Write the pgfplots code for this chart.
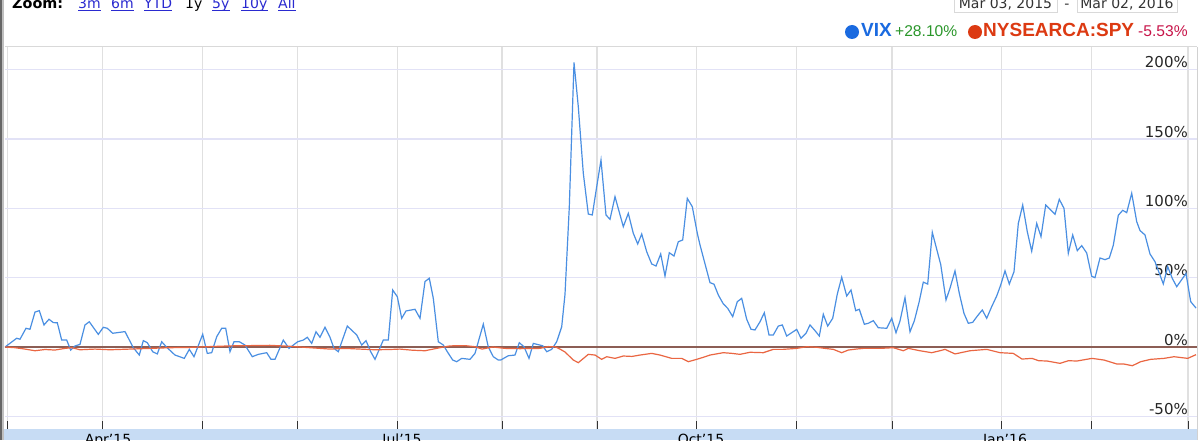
\documentclass[border=0pt]{standalone}
\usepackage{fontspec}
\setmainfont{DejaVu Sans}
\newfontfamily\arial{Liberation Sans}
\usepackage{pgfplots}
\pgfplotsset{compat=1.18}
\usepackage{pgfplotstable}

\definecolor{vixline}{HTML}{4A8FE2}
\definecolor{spyline}{HTML}{EA6642}
\definecolor{zeroline}{HTML}{8C5E55}
\definecolor{hgrid}{HTML}{E2E2F6}
\definecolor{vgrid}{HTML}{E0E0E0}
\definecolor{navband}{HTML}{C7DCF4}
\definecolor{legblue}{HTML}{1A6AE0}
\definecolor{legred}{HTML}{DC3A12}
\definecolor{leggreen}{HTML}{2A962A}
\definecolor{legcrimson}{HTML}{C8154A}
\definecolor{linkblue}{HTML}{2A2AD0}

% x = horizontal position along the trading-day time axis, y = change in percent
\pgfplotstableread{
x y
5 0
16.7 6.3
20 5.6
26 13.5
30 12.8
35 25.2
39.3 26.2
44 15.9
49 20.0
53.3 17.6
57.3 17.5
61.7 5.0
66.7 5.0
70.7 -2.2
75 0.7
80 1.9
85 15.9
89.3 18.2
98.3 9.1
103.3 14.2
107.3 13.5
112.7 9.9
125 11.1
133.3 -0.5
139.3 -5.8
143.3 4.6
147.3 3.1
152.7 -3.4
157.3 -5.0
161.7 3.8
166.7 -0.2
175 -5.8
184.3 -8.2
189.3 -1.7
194 -7.0
202.7 9.2
207.3 -4.6
211.7 -4.1
216.7 7.4
221.7 13.5
225.7 13.5
230 -3.4
234 3.8
239.3 3.8
245 1.4
252.3 -7.0
258.3 -5.3
266.7 -4.1
271 -8.9
275 -8.9
283.3 5.0
289 -1.0
297.7 3.8
303.3 5.0
307.3 7.0
311.7 2.6
316 11.0
320 7.0
325 14.2
330 7.0
334 -1.0
338.3 -3.4
347.3 15.1
356.7 8.7
361.7 1.4
366 4.6
370.7 -3.4
375 -8.9
383.3 5.0
388.3 5.0
392.7 41.1
397.3 36.3
401.7 20.7
406 26.0
415 27.2
420 20.7
425 47.2
429.3 49.6
433.3 35.1
438.3 3.8
443.3 1.4
447.3 -3.4
452.7 -9.4
456.7 -10.6
461.7 -8.2
470 -8.9
475 -4.6
483.3 16.5
488.3 0
493.3 -7.0
498.3 -9.4
500.7 -9.4
508.3 -6.3
515 -5.8
519.3 3.1
524 0.2
529 -8.2
533.3 2.6
542.7 0.9
546.7 -3.4
551.7 -1.7
556.7 3.8
561.7 14.6
565 38
569.3 101
574 205.2
578.3 173.3
583.3 125.3
588.3 95.9
592.3 95.2
596.7 115.6
601 134.9
606 95.2
610 92.1
615 108.4
623.3 86.8
628.3 96.4
633.3 82.0
637.7 74.3
641.7 81.5
646.7 68.7
651.7 59.9
656 58.4
660.7 67.1
665 51.2
669.3 68.0
674 65.6
678.3 75.9
682.7 77.2
687.3 107.2
692.3 101.2
697.3 82.0
700 73.6
705 60.0
710 46.4
714 45.3
718.3 37.5
723.3 31.1
727.7 27.9
732.7 21.9
737.3 32.7
741.7 35.1
746.7 20.0
751 12.8
755 12.3
760 18.2
764.3 24.7
769 8.7
773.3 8.7
778.3 15.1
782.3 15.9
786.7 7.9
791.7 10.3
796.7 12.7
801 6.3
806 9.9
810 15.9
815 11.8
819.3 7.9
823.3 23.6
827.7 15.1
832.7 20.7
837.3 38.2
841.7 50.3
846.7 36.8
851 41.1
855.7 26.2
859.3 27.2
864.3 16.4
868.3 17.1
873.3 19.0
878.3 13.9
886.7 13.5
891.7 20.7
896 10.3
900 18.8
905 35.6
910 11.0
914.3 18.8
919 32.1
923.3 46.8
927.7 45.4
932.3 82.7
940.7 59.5
946 33.9
950 42.4
955 54.9
959.3 38.7
964 24.2
968.3 17.1
972.7 17.8
977.3 22.3
982.3 26.7
986.7 20.7
991.7 29.1
996.7 36.8
1000.7 44.7
1005 54.9
1009.3 45.4
1014 54.3
1018.3 89.1
1022.7 102.4
1027.3 83.1
1031.7 69.1
1036.7 89.1
1041 79.6
1045.7 102.4
1050 99.3
1055 95.7
1059.3 106.5
1064 100.0
1068.3 67.6
1072.7 80.8
1077.3 69.5
1081.7 73.1
1086.7 67.8
1091.7 51.0
1095 50.0
1100 64.2
1105 63.0
1109.3 64.2
1113.3 73.4
1118.3 95.0
1122.7 98.6
1126.7 96.9
1131.7 110.9
1136.7 90.4
1140 84.0
1145 80.8
1150 67.1
1155 61.5
1159.3 53.2
1163.3 45.5
1167.7 57.9
1172.3 49.5
1176.7 43.5
1186 53.0
1190.7 32.7
1196 28.1
}\vixdata

\pgfplotstableread{
x y
5 0
15 -0.5
25 -1.5
35 -2.7
45 -1.8
55 -2.2
65 -1.0
72 -0.5
80 -2.0
95 -1.5
110 -2.0
130 -1.5
150 -1.0
170 -0.5
190 -0.3
210 0.3
230 0.8
250 1.0
270 1.2
290 0.5
310 -0.5
330 -1.5
345 -1.0
360 -1.5
375 -2.0
390 -1.8
400 -1.5
412 -2.3
425 -2.7
440 -0.5
450 0.8
465 1.0
475 0.2
482 -1.5
493 0
505 -1.0
520 -1.2
540 -1.0
548 0.3
555 0.2
560 -1.5
565 -3.6
573.3 -9.4
578.3 -11.3
583 -8.5
588.3 -5.3
595 -5.8
601.7 -8.9
606.7 -7.0
615 -8.2
623.3 -6.5
632 -6.8
640 -5.8
651.7 -4.6
660 -5.8
671.7 -8.2
681.7 -8.2
688.3 -10.6
696.7 -8.9
703 -7.5
710 -5.8
723.3 -4.1
732 -4.6
740 -5.3
750 -3.8
763.3 -4.1
773.3 -1.7
783.3 -1.7
796.7 -1.0
806.7 0.2
816.7 -0.2
825 -1.0
833.3 -1.7
841.7 -4.1
848.3 -2.2
856 -1.5
863.3 -1.0
880 -1.0
893.3 -0.5
903.3 -2.7
908.3 -1.0
920 -2.7
931.7 -4.1
940 -2.7
945 -1.7
955 -5.0
970 -2.7
986.7 -1.7
1000 -4.1
1013.3 -4.6
1022 -8.7
1032 -8.2
1038.7 -9.9
1047 -10.1
1060 -11.8
1068.3 -9.9
1077 -10.1
1092 -8.2
1104 -9.4
1117 -12.3
1124 -12.3
1132.3 -13.5
1140.7 -10.6
1150.7 -8.9
1164 -8.2
1174 -7.0
1187.7 -8.2
1196 -5.53
}\spydata

\begin{document}
\begin{tikzpicture}[x=1pt,y=1pt]
\useasboundingbox (0,0) rectangle (1200,440);
\fill[white] (0,0) rectangle (1200,440);
\fill[navband] (3,0) rectangle (1197,11);
\begin{axis}[
  at={(5pt,11pt)}, anchor=south west,
  scale only axis, width=1192pt, height=382pt,
  xmin=5, xmax=1197, ymin=-59.14, ymax=216.37,
  axis line style={draw=none},
  xtick={7.3,102.6,202.8,297.7,397.2,502,597,696.8,796.7,892,1001.5,1091.8,1188},
  xticklabels={},
  ytick={-50,0,50,100,150,200},
  yticklabels={-50\%,0\%,50\%,100\%,150\%,200\%},
  yticklabel pos=right,
  ytick style={draw=none},
  xtick pos=bottom, tick align=inside,
  x tick style={draw=black!80, line width=1pt},
  major tick length=8pt,
  grid=major,
  x grid style={vgrid, line width=1.2pt},
  y grid style={hgrid, line width=1.5pt},
  yticklabel style={anchor=south east, inner sep=0pt, xshift=-9pt, yshift=1.5pt,
    font=\fontsize{15}{18}\selectfont, text=black!85},
]
\addplot[zeroline, line width=1.2pt, forget plot] coordinates {(5,0) (1197,0)};
\addplot[vixline, line width=1.2pt] table {\vixdata};
\addplot[spyline, line width=1.2pt] table {\spydata};
\end{axis}
% frame pieces
\fill[black!60] (0,0) rectangle (2.2,440);
\fill[black!25] (2.2,0) rectangle (4,440);
\draw[black!18, line width=1pt] (1197,0) -- (1197,393);
\draw[black!15, line width=1pt] (5,393) -- (1197,393);
% navigator labels
\foreach \px/\lab in {108/Apr, 402/Jul, 701/Oct}
  \node[anchor=north, inner sep=0pt, font=\fontsize{14}{17}\selectfont] at (\px,6) {\lab{\char39}15};
\node[anchor=north, inner sep=0pt, font=\fontsize{14}{17}\selectfont] at (1005,6) {Jan{\char39}16};
% zoom selector
\node[anchor=base west, inner sep=0pt, font=\fontsize{14.4}{17}\selectfont\bfseries] at (12,431) {Zoom:};
\begin{scope}[every node/.style={anchor=base west, inner sep=0pt, text=linkblue, font=\fontsize{14}{17}\selectfont}]
\node (a) at (78,431) {3m};
\node (b) at (111,431) {6m};
\node (c) at (144,431) {YTD};
\node (e) at (212,431) {5y};
\node (f) at (241,431) {10y};
\node (g) at (278,431) {All};
\end{scope}
\node[anchor=base west, inner sep=0pt, font=\fontsize{14}{17}\selectfont] at (185,431) {1y};
\foreach \n in {a,b,c,e,f,g}
  \draw[linkblue, line width=0.9pt] ([yshift=-1.6pt]\n.base west) -- ([yshift=-1.6pt]\n.base east);
% date range boxes
\draw[black!15, line width=1pt] (954,427) rectangle (1057,450);
\draw[black!15, line width=1pt] (1077,427) rectangle (1177,450);
\begin{scope}[every node/.style={anchor=base, inner sep=0pt, text=black!80, font=\fontsize{14}{17}\selectfont}]
\node at (1005.5,431.5) {Mar 03, 2015};
\node at (1067,431.5) {-};
\node at (1127,431.5) {Mar 02, 2016};
\end{scope}
% legend
\fill[legblue] (852,408) circle (7);
\node[anchor=base west, inner sep=0pt, text=legblue, font={\arial\bfseries\fontsize{19}{22}\selectfont}] at (861,403.3) {VIX};
\node[anchor=base west, inner sep=0pt, text=leggreen, font={\arial\fontsize{15.6}{18}\selectfont}] at (895,403.3) {+28.10\%};
\fill[legred] (975,408) circle (7);
\node[anchor=base west, inner sep=0pt, text=legred, font={\arial\bfseries\fontsize{19}{22}\selectfont}] at (983,403.3) {NYSEARCA:SPY};
\node[anchor=base west, inner sep=0pt, text=legcrimson, font={\arial\fontsize{15.6}{18}\selectfont}] at (1138,403.3) {-5.53\%};
\end{tikzpicture}
\end{document}
